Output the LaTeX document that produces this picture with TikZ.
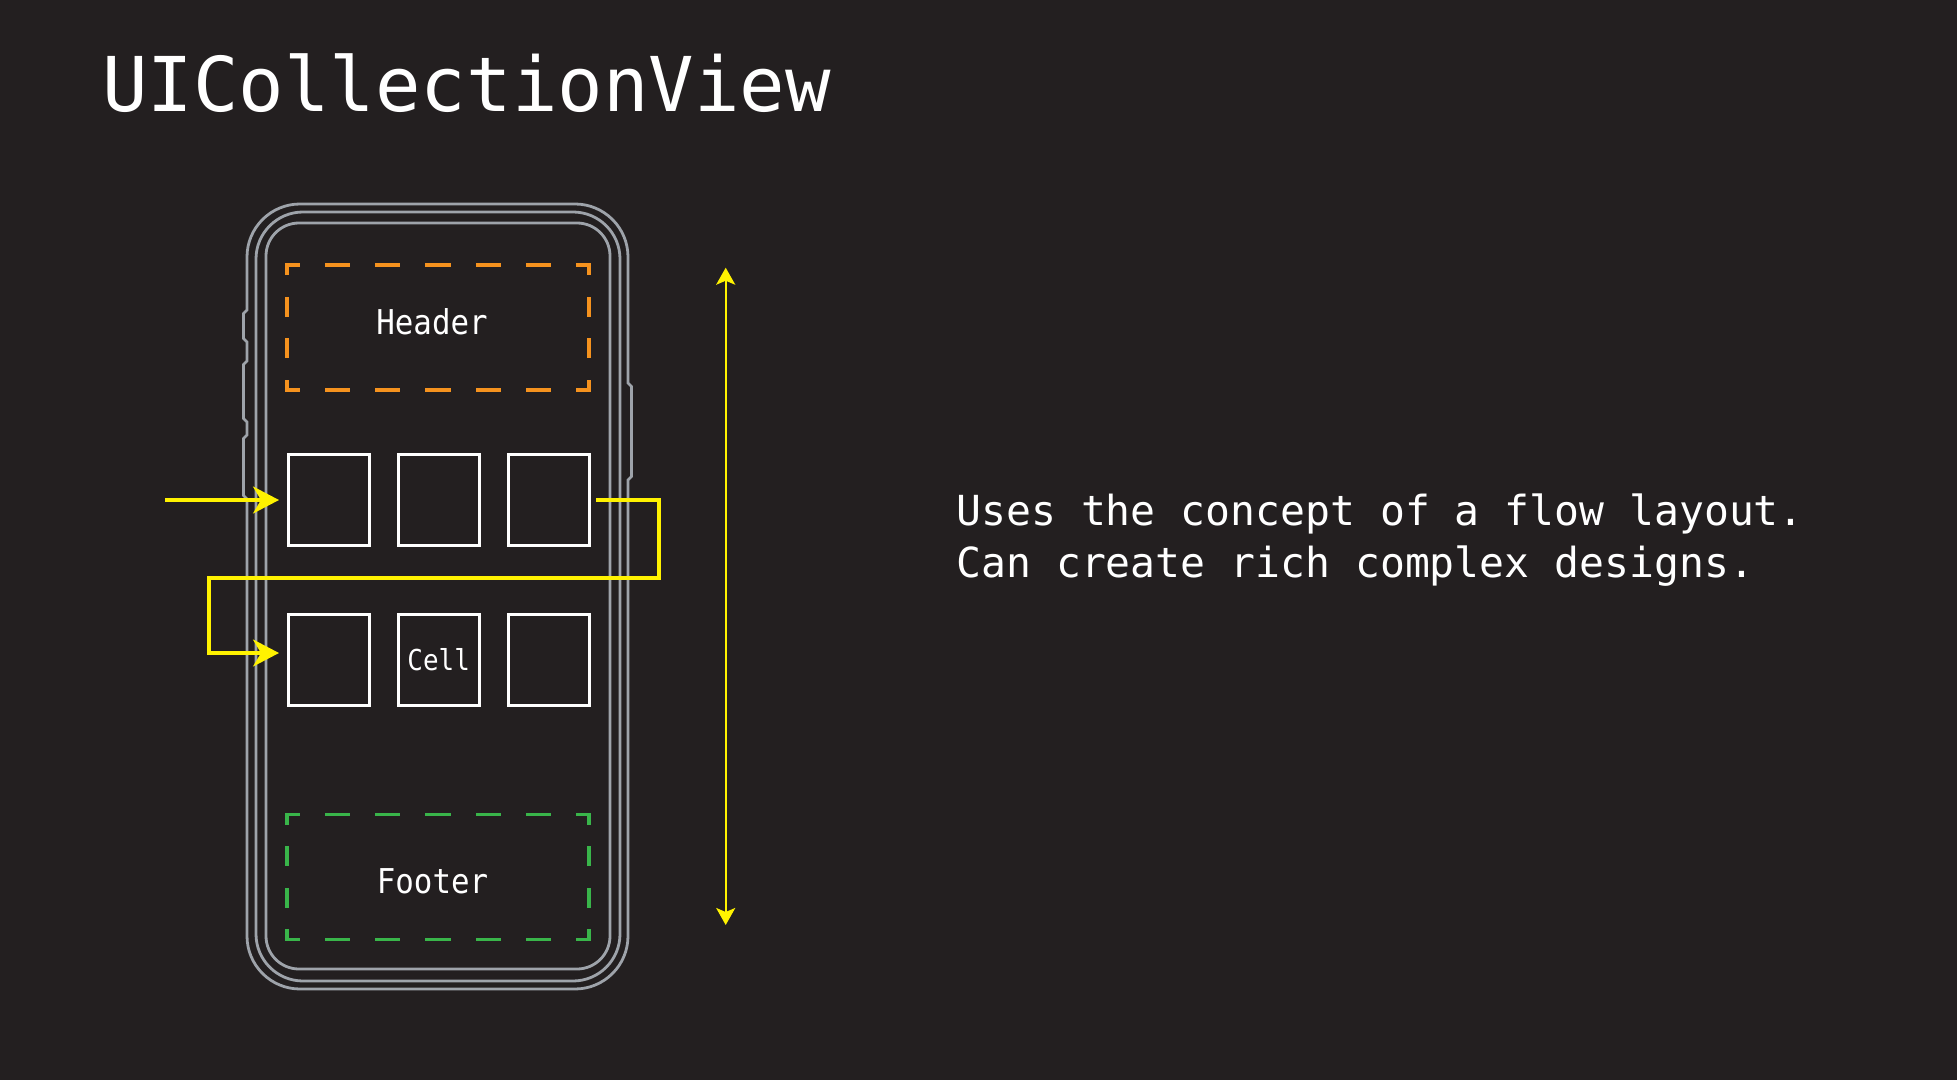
\documentclass[tikz,border=0pt]{standalone}
\usepackage{fontspec}
\newfontfamily\mono{DejaVu Sans Mono}
\newfontfamily\monoc[FakeStretch=0.9]{DejaVu Sans Mono}
\usetikzlibrary{arrows.meta}
\definecolor{bg}{RGB}{35,31,32}
\definecolor{phonegray}{RGB}{158,163,170}
\definecolor{hdrorange}{RGB}{245,146,30}
\definecolor{ftrgreen}{RGB}{57,181,74}
\definecolor{flowyellow}{RGB}{255,242,0}
\begin{document}
\begin{tikzpicture}[x=0.5pt,y=-0.5pt,
  phone/.style={draw=phonegray,line width=1.4pt},
  cellbox/.style={draw=white,line width=1.6pt,minimum width=40.5pt,minimum height=45.3pt,inner sep=0pt,outer sep=0pt},
  zone/.style={minimum width=151pt,minimum height=62.5pt,inner sep=0pt,outer sep=0pt},
  hdash/.style={line width=1.6pt,line cap=rect,dash pattern=on 11pt off 14.17pt,dash phase=5.5pt},
  vdash/.style={line width=1.6pt,line cap=rect,dash pattern=on 8.5pt off 12.33pt,dash phase=4.25pt},
  flow/.style={draw=flowyellow,line width=1.6pt,-{Stealth[length=13pt,width=13.5pt,inset=4pt]}},
  lbl/.style={text=white,inner sep=0pt,anchor=base},
]
\fill[bg] (0,0) rectangle (1957,1080);
\useasboundingbox (0,0) rectangle (1957,1080);

% title and description
\node[lbl,anchor=base west,font=\mono\fontsize{37.8pt}{40pt}\selectfont] (title) at (102,112) {UICollectionView};
\node[lbl,anchor=base west,font=\mono\fontsize{20.7pt}{26pt}\selectfont] (desc1) at (956,525) {Uses the concept of a flow layout.};
\node[lbl,anchor=base west,font=\mono\fontsize{20.7pt}{26pt}\selectfont] (desc2) at (956,577) {Can create rich complex designs.};

% phone outline
\draw[phone] (300,204) -- (575,204) arc[start angle=90,end angle=0,radius=26.5pt]
  -- (628,383) -- (631.5,386.5) -- (631.5,476.5) -- (628,480)
  -- (628,936) arc[start angle=0,end angle=-90,radius=26.5pt]
  -- (300,989) arc[start angle=-90,end angle=-180,radius=26.5pt]
  -- (247,499) -- (243.5,495.5) -- (243.5,438.5) -- (247,435)
  -- (247,422) -- (243.5,418.5) -- (243.5,364.5) -- (247,361)
  -- (247,342) -- (243.5,338.5) -- (243.5,313.5) -- (247,310)
  -- (247,257) arc[start angle=180,end angle=90,radius=26.5pt] -- cycle;
\draw[phone,rounded corners=23.5pt] (256,212) rectangle (620,981);
\draw[phone,rounded corners=16.5pt] (266,223) rectangle (610,969);

% header
\node[zone] (header) at (438,327.5) {};
\draw[hdrorange,hdash] (header.north west) -- (header.north east);
\draw[hdrorange,hdash] (header.south west) -- (header.south east);
\draw[hdrorange,vdash] (header.north west) -- (header.south west);
\draw[hdrorange,vdash] (header.north east) -- (header.south east);
\node[lbl,font=\monoc\fontsize{17.1pt}{20pt}\selectfont] (headerlbl) at (432,335) {Header};

% footer
\node[zone] (footer) at (438,877) {};
\draw[ftrgreen,hdash] (footer.north west) -- (footer.north east);
\draw[ftrgreen,hdash] (footer.south west) -- (footer.south east);
\draw[ftrgreen,vdash] (footer.north west) -- (footer.south west);
\draw[ftrgreen,vdash] (footer.north east) -- (footer.south east);
\node[lbl,font=\monoc\fontsize{17.1pt}{20pt}\selectfont] (footerlbl) at (432.5,893) {Footer};

% cells
\node[cellbox] (c1) at (328.7,500) {};
\node[cellbox] (c2) at (438.7,500) {};
\node[cellbox] (c3) at (548.7,500) {};
\node[cellbox] (c4) at (328.7,660) {};
\node[cellbox,text=white,font=\monoc\fontsize{14.4pt}{16pt}\selectfont] (c5) at (438.7,660) {Cell};
\node[cellbox] (c6) at (548.7,660) {};

% flow arrows
\coordinate (inL) at (165,500);
\draw[flow] (inL) -- ([xshift=-4.6pt]c1.west);
\draw[flow] ([xshift=3.5pt]c3.east) -| (659,578) -- (209,578) |- ([xshift=-4.6pt,yshift=3.5pt]c4.west);

% scroll arrow
\coordinate (vt) at (725.7,267.7);
\coordinate (vb) at (725.7,925);
\draw[draw=flowyellow,line width=1.2pt,{Stealth[length=8.5pt,width=9.5pt,inset=2pt]}-{Stealth[length=8.5pt,width=9.5pt,inset=2pt]}] (vt) -- (vb);
\end{tikzpicture}
\end{document}
